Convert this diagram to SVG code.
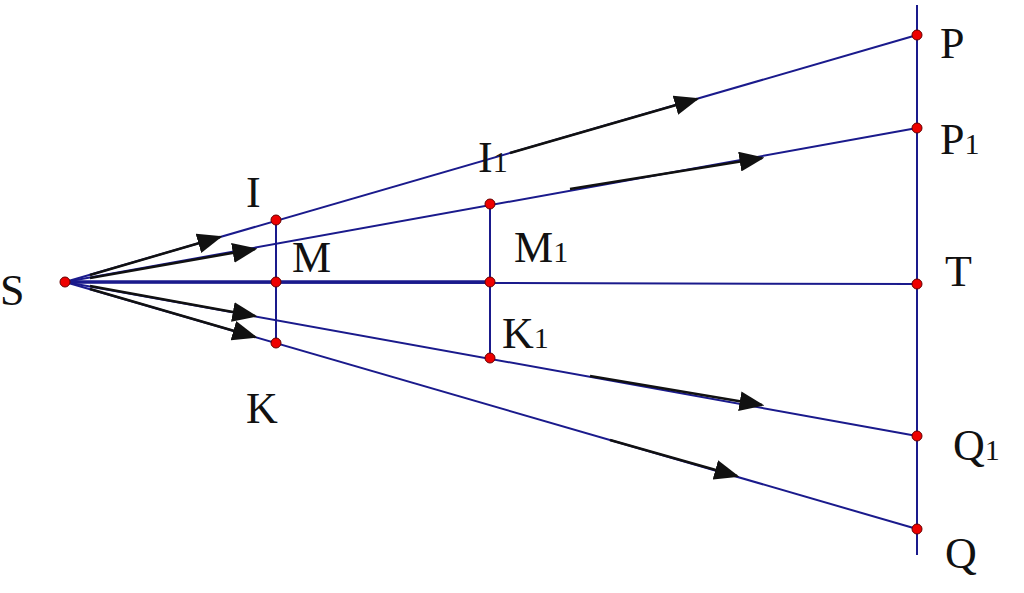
<svg xmlns="http://www.w3.org/2000/svg" width="1024" height="593" viewBox="0 0 1024 593">
<style>
.b{stroke:#1a1a8c;stroke-width:2;fill:none}
.k{stroke:#111;stroke-width:2.5;fill:none;marker-end:url(#ah)}
.p{fill:#e00;stroke:#600;stroke-width:1}
text{font-family:"Liberation Serif",serif;font-size:44px;fill:#111}
.s{font-size:30px}
</style>
<defs><marker id="ah" markerWidth="10" markerHeight="8" refX="9" refY="4" orient="auto" markerUnits="strokeWidth"><path d="M0,0L10,4L0,8z" fill="#111"/></marker></defs>
<rect width="1024" height="593" fill="#fff"/>
<g id="connectors">
<line class="b" x1="917" y1="5" x2="917" y2="555"/>
<line class="b" x1="65" y1="282" x2="917" y2="35"/>
<line class="b" x1="65" y1="282" x2="917" y2="128"/>
<line class="b" x1="65" y1="282" x2="917" y2="284"/>
<line class="b" x1="65" y1="282" x2="490" y2="282" style="stroke-width:3.5"/>
<line class="b" x1="65" y1="282" x2="917" y2="436"/>
<line class="b" x1="65" y1="282" x2="917" y2="529"/>
<line class="b" x1="276" y1="220" x2="276" y2="343"/>
<line class="b" x1="490" y1="204" x2="490" y2="358"/>
<line class="k" x1="90" y1="275" x2="220" y2="237"/>
<line class="k" x1="90" y1="278" x2="255" y2="249"/>
<line class="k" x1="90" y1="286" x2="255" y2="316"/>
<line class="k" x1="90" y1="289" x2="255" y2="337"/>
<line class="k" x1="510" y1="153" x2="697" y2="99"/>
<line class="k" x1="570" y1="189" x2="762" y2="158"/>
<line class="k" x1="590" y1="376" x2="762" y2="405"/>
<line class="k" x1="610" y1="440" x2="737" y2="476"/>
</g>
<g id="S"><circle class="p" cx="65" cy="282" r="5"/><text x="0" y="305">S</text></g>
<g id="I"><circle class="p" cx="276" cy="220" r="5"/><text x="246" y="207">I</text></g>
<g id="M"><circle class="p" cx="276" cy="282" r="5"/><text x="292" y="272">M</text></g>
<g id="K"><circle class="p" cx="276" cy="343" r="5"/><text x="246" y="423">K</text></g>
<g id="I1"><circle class="p" cx="490" cy="204" r="5"/><text x="478" y="172">I<tspan class="s">1</tspan></text></g>
<g id="M1"><circle class="p" cx="490" cy="282" r="5"/><text x="514" y="262">M<tspan class="s">1</tspan></text></g>
<g id="K1"><circle class="p" cx="490" cy="358" r="5"/><text x="502" y="348">K<tspan class="s">1</tspan></text></g>
<g id="P"><circle class="p" cx="917" cy="35" r="5"/><text x="940" y="58">P</text></g>
<g id="P1"><circle class="p" cx="917" cy="128" r="5"/><text x="940" y="154">P<tspan class="s">1</tspan></text></g>
<g id="T"><circle class="p" cx="917" cy="284" r="5"/><text x="945" y="284" dy="2" >T</text></g>
<g id="Q1"><circle class="p" cx="917" cy="436" r="5"/><text x="953" y="460">Q<tspan class="s">1</tspan></text></g>
<g id="Q"><circle class="p" cx="917" cy="529" r="5"/><text x="945" y="568">Q</text></g>
</svg>
